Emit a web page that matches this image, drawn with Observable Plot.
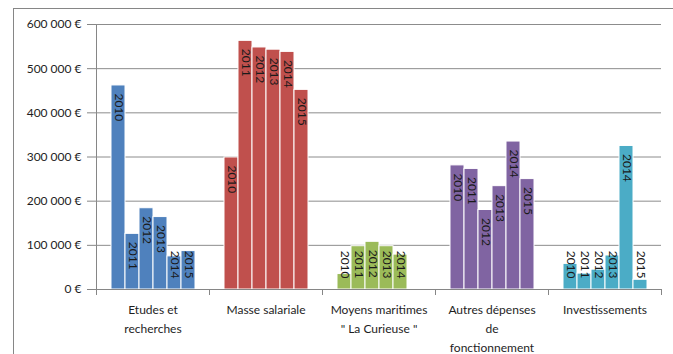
<!DOCTYPE html>
<html>
<head>
<meta charset="utf-8">
<script src="https://cdn.jsdelivr.net/npm/d3@7"></script>
<script src="https://cdn.jsdelivr.net/npm/@observablehq/plot@0.6"></script>
<style>
  body { margin: 0; background: #fff; }
  #wrap { position: relative; width: 673px; height: 354px; overflow: hidden; }
  #border { position: absolute; left: 13px; top: 8px; width: 700px; height: 400px; border: 1px solid #868686; box-sizing: border-box; pointer-events: none; }
  #chart { position: absolute; left: 0; top: 0; }
  #chart [aria-label="y-axis tick"] { stroke: #868686; }
  #chart [aria-label="y-axis tick label"] { fill: #1e1e1e; }
</style>
</head>
<body>
<div id="wrap"><div id="chart"></div><div id="border"></div></div>
<script>
// Budget lines (wrapped as they appear under the bars)
const categories = [
  "Etudes et\nrecherches",
  "Masse salariale",
  "Moyens maritimes\n\" La Curieuse \"",
  "Autres dépenses\nde\nfonctionnement",
  "Investissements"
];
const years = ["2010", "2011", "2012", "2013", "2014", "2015"];

// Amounts in euros, per year 2010 → 2015
const etudes = [462000, 126000, 184000, 164000, 75000, 87000];
const masse = [299000, 563000, 548000, 543000, 538000, 452000];
const moyens = [35000, 98000, 108000, 98000, 79000, null];
const autres = [281000, 273000, 180000, 234000, 335000, 250000];
const invest = [58000, 36000, 45000, 77000, 325000, 22000];

const colors = ["#4f81bd", "#c0504d", "#9bbb59", "#8064a2", "#4bacc6"];
const yTicks = [0, 100000, 200000, 300000, 400000, 500000, 600000];

const series = [etudes, masse, moyens, autres, invest];
const data = [];
series.forEach((vals, i) => vals.forEach((v, j) => {
  if (v != null) data.push({cat: categories[i], year: years[j], value: v});
}));

const fr = d3.formatLocale({decimal: ",", thousands: "\u202f", grouping: [3], currency: ["", "\u00a0€"]});
const euro = fr.format("$,.0f");

// year labels sit just inside the top of each bar, but never lower than this level
const labelFloor = 106000;

const chart = Plot.plot({
  width: 673,
  height: 354,
  marginLeft: 95,
  marginRight: 12,
  marginTop: 24,
  marginBottom: 65,
  style: {fontFamily: "Lato, 'Liberation Sans', sans-serif", fontSize: "12px", color: "#868686", background: "transparent"},
  fx: {domain: categories, padding: 0, axis: null},
  x: {domain: years, paddingInner: 0, paddingOuter: 0.77, axis: null},
  y: {domain: [0, 600000], ticks: yTicks, tickFormat: euro, tickSize: 9, tickPadding: 6, label: null, line: true},
  color: {domain: categories, range: colors},
  marks: [
    Plot.ruleY(yTicks, {stroke: "#8c8c8c", strokeWidth: 1}),
    Plot.barY(data, {fx: "cat", x: "year", y: "value", fill: "cat", stroke: "#ffffff", strokeWidth: 1}),
    Plot.ruleY([0], {stroke: "#868686"}),
    Plot.frame({anchor: "left", stroke: "#868686", insetTop: 265, insetBottom: -5}),
    Plot.frame({anchor: "right", stroke: "#868686", insetTop: 265, insetBottom: -5}),
    Plot.text(data, {
      fx: "cat", x: "year", y: d => Math.max(d.value, labelFloor),
      text: "year", rotate: 90, textAnchor: "start", dy: 8,
      fill: "#1a1a1a", fontSize: 12
    }),
    Plot.text(categories, {
      fx: d => d, text: d => d, frameAnchor: "bottom", lineAnchor: "top",
      dy: 11, lineHeight: 1.58, fill: "#1e1e1e", fontSize: 12
    })
  ]
});
document.getElementById("chart").appendChild(chart);
</script>
</body>
</html>
